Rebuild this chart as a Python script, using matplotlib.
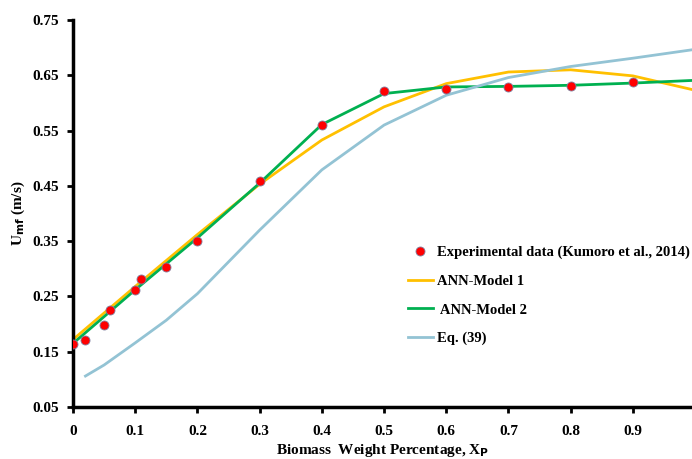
import numpy as np
import matplotlib
matplotlib.use('Agg')
from matplotlib import pyplot as plt

# experimental data
x_exp = [0, 0.02, 0.05, 0.06, 0.10, 0.11, 0.15, 0.20, 0.30, 0.40, 0.50, 0.60, 0.70, 0.80, 0.90]
u_exp = [0.164, 0.171, 0.198, 0.225, 0.262, 0.281, 0.303, 0.350, 0.459, 0.561, 0.621, 0.626, 0.628, 0.631, 0.638]

# model curves
x_mod = [0, 0.1, 0.2, 0.3, 0.4, 0.5, 0.6, 0.7, 0.8, 0.9, 1.0]
u_ann1 = [0.172, 0.268, 0.362, 0.453, 0.533, 0.593, 0.635, 0.656, 0.660, 0.649, 0.623]
u_ann2 = [0.165, 0.262, 0.356, 0.455, 0.561, 0.617, 0.629, 0.630, 0.632, 0.636, 0.641]

x_eq = [0.02, 0.05, 0.1, 0.15, 0.2, 0.3, 0.4, 0.5, 0.6, 0.7, 0.8, 0.9, 1.0]
u_eq = [0.106, 0.126, 0.166, 0.207, 0.255, 0.370, 0.479, 0.560, 0.614, 0.646, 0.666, 0.681, 0.697]

xticks = [0, 0.1, 0.2, 0.3, 0.4, 0.5, 0.6, 0.7, 0.8, 0.9]
yticks = [0.05, 0.15, 0.25, 0.35, 0.45, 0.55, 0.65, 0.75]

plt.rcParams['font.family'] = ['Liberation Serif', 'DejaVu Serif']
plt.rcParams['font.weight'] = 'bold'

fig = plt.figure(figsize=(6.92, 4.59), dpi=100)
ax = fig.add_axes([0.1055, 0.1133, 0.8945, 0.843])

ax.plot(x_exp, u_exp, 'o', color='#FF0000', markersize=6.5, markeredgecolor='#7f7f9f',
        markeredgewidth=0.6, label='Experimental data (Kumoro et al., 2014)', zorder=5)
ax.plot(x_mod, u_ann1, color='#FFC000', lw=2, label='ANN-Model 1')
ax.plot(x_mod, u_ann2, color='#00B050', lw=2, label=' ANN-Model 2')
ax.plot(x_eq, u_eq, color='#93C3D4', lw=2, label='Eq. (39)')

ax.set_xlim(0, 0.995)
ax.set_ylim(0.05, 0.75)
ax.set_xticks(xticks)
ax.set_xticklabels(['0'] + ['%.1f' % t for t in xticks[1:]])
ax.set_yticks(yticks)
ax.set_yticklabels(['%.2f' % t for t in yticks])
ax.tick_params(labelsize=11, width=2, length=4, direction='out')
ax.tick_params(axis='x', pad=9)
ax.tick_params(axis='y', pad=6)

for s in ['top', 'right']:
    ax.spines[s].set_visible(False)
for s in ['left', 'bottom']:
    ax.spines[s].set_linewidth(2.5)

ax.set_xlabel(r'Biomass  Weight Percentage, X$_\mathbf{P}$', fontsize=11, fontweight='bold', labelpad=3)
ax.set_ylabel(r'U$_\mathbf{mf}$ (m/s)', fontsize=11, fontweight='bold', labelpad=4)

ax.legend(loc='upper left', bbox_to_anchor=(0.52, 0.45), frameon=False, fontsize=10.5,
          handlelength=1.7, handletextpad=0.3, labelspacing=1.05)

fig.savefig('out.png', dpi=100)
